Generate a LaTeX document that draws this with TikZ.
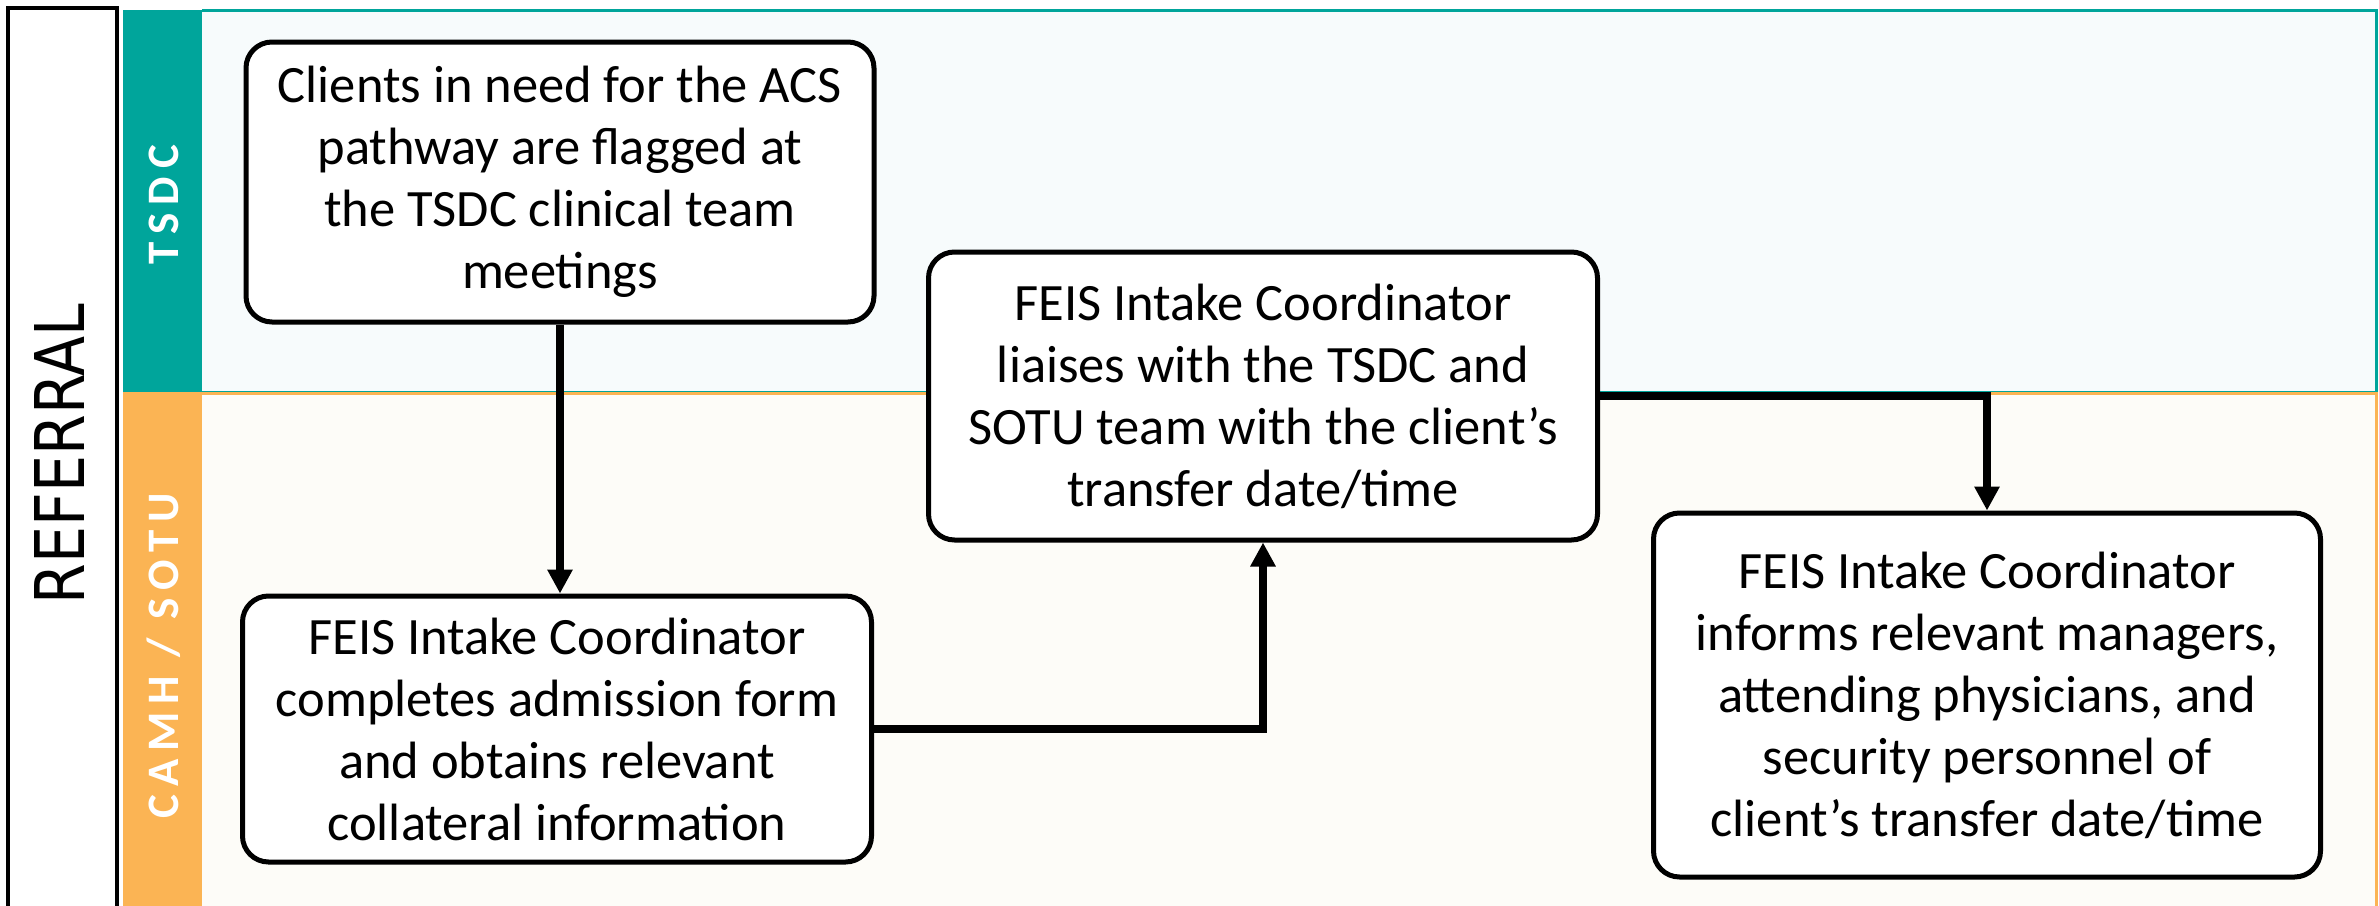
\documentclass[tikz,border=0pt]{standalone}
\usepackage{fontspec}
\setmainfont{Carlito}
\newfontfamily\lanefont[LetterSpace=18]{Carlito}
\newfontfamily\reffont{DejaVu Sans}
\usetikzlibrary{arrows.meta}
\definecolor{tsdcteal}{RGB}{0,165,155}
\definecolor{camhorange}{RGB}{251,180,84}
\definecolor{tsdcbg}{RGB}{247,251,252}
\definecolor{camhbg}{RGB}{253,252,248}
\begin{document}
\begin{tikzpicture}[x=1pt,y=-1pt,
  stepbox/.style={draw=black, line width=5pt, fill=white, rounded corners=26pt,
    align=center, inner sep=0pt, font=\fontsize{52.5}{62}\selectfont},
  conn/.style={line width=7.5pt, -{Triangle[length=24pt,width=24pt]}},
  lanelabel/.style={rotate=90, text=white, font=\lanefont\bfseries\fontsize{45}{54}\selectfont}]
\useasboundingbox (0,0) rectangle (2379,905);
% lanes
\fill[tsdcbg] (202,10) rectangle (2376,392);
\fill[camhbg] (202,392) rectangle (2376,910);
\draw[tsdcteal, line width=3pt] (202,10) -- (2376,10) -- (2376,392) -- (202,392);
\draw[camhorange, line width=3pt] (202,393) -- (2376,393) -- (2376,910);
\fill[tsdcteal] (123,10) rectangle (202,392);
\fill[camhorange] (123,392) rectangle (202,910);
\node[lanelabel] (l1) at (164,205) {TSDC};
\node[lanelabel] (l2) at (164,656) {CAMH / SOTU};
% phase box
\draw[black, line width=3.5pt, fill=white] (8,8) rectangle (117,912);
\node[rotate=90, inner sep=0pt] (ref) at (59,454) {\resizebox{300pt}{50pt}{\reffont REFERRAL}};
% steps
\node[stepbox, minimum width=628pt, minimum height=280pt] (b1) at (560,182)
  {Clients in need for the ACS\\pathway are flagged at\\the TSDC clinical team\\meetings};
\node[stepbox, minimum width=629pt, minimum height=266pt] (b2) at (557,729)
  {FEIS Intake Coordinator\\completes admission form\\and obtains relevant\\collateral information};
\node[stepbox, minimum width=669pt, minimum height=288pt] (b3) at (1263,396)
  {FEIS Intake Coordinator\\liaises with the TSDC and\\SOTU team with the client’s\\transfer date/time};
\node[stepbox, minimum width=667pt, minimum height=364pt] (b4) at (1987,695)
  {FEIS Intake Coordinator\\informs relevant managers,\\attending physicians, and\\security personnel of\\client’s transfer date/time};
% connectors
\draw[conn] (b1.south) -- (b1.south |- b2.north);
\draw[conn] (b2.east) -| (b3.south);
\draw[conn] (b3.east) -| (b4.north);
\end{tikzpicture}
\end{document}
